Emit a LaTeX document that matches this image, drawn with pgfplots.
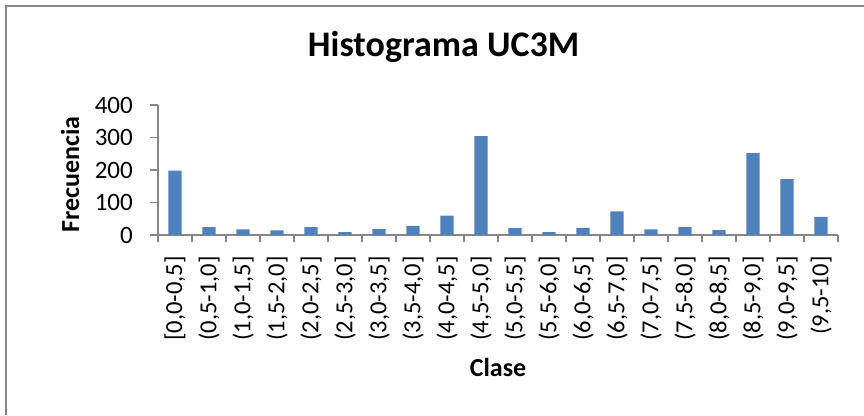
\documentclass[border=0pt]{standalone}
\usepackage{fontspec}
\setmainfont{Carlito}
\usepackage{pgfplots}
\pgfplotsset{compat=1.18}
\definecolor{barblue}{HTML}{4F81BD}
\definecolor{axgray}{HTML}{868686}
\begin{document}
\begin{tikzpicture}[x=1pt,y=1pt]
\useasboundingbox (0,0) rectangle (864,415);
\draw[axgray, line width=2pt] (6,0) -- (6,409) -- (870,409);
\begin{axis}[
  at={(158pt,180pt)}, anchor=south west,
  scale only axis, width=680pt, height=130pt,
  ybar, bar width=13.3pt,
  xmin=-0.5, xmax=19.5, ymin=0, ymax=400,
  axis x line=bottom, axis y line=left,
  axis line style={-, axgray, line width=1.3pt},
  xtick={0,...,19},
  xticklabels={{[0,0-0,5]},{(0,5-1,0]},{(1,0-1,5]},{(1,5-2,0]},{(2,0-2,5]},{(2,5-3,0]},{(3,0-3,5]},{(3,5-4,0]},{(4,0-4,5]},{(4,5-5,0]},{(5,0-5,5]},{(5,5-6,0]},{(6,0-6,5]},{(6,5-7,0]},{(7,0-7,5]},{(7,5-8,0]},{(8,0-8,5]},{(8,5-9,0]},{(9,0-9,5]},{(9,5-10]}},
  major x tick style={draw=none},
  minor xtick={-0.5,0.5,...,19.5},
  minor tick length=7pt, major tick length=8pt,
  tick align=outside,
  every tick/.style={axgray, line width=1.3pt},
  ytick={0,100,200,300,400},
  /pgf/number format/assume math mode=true,
  ticklabel style={font=\fontsize{25}{30}\selectfont, text=black},
  xticklabel style={rotate=90, anchor=east, inner sep=0pt, xshift=-13pt, font=\fontsize{24.5}{30}\selectfont},
  yticklabel style={anchor=east, inner sep=0pt, xshift=-17pt},
  title={Histograma UC3M},
  title style={at={(axis description cs:0.42,1.33)}, anchor=base, font=\bfseries\fontsize{36}{42}\selectfont},
  xlabel={Clase},
  xlabel style={at={(axis description cs:0.5,-1.092)}, anchor=base, font=\bfseries\fontsize{26}{31}\selectfont},
  ylabel={Frecuencia},
  ylabel style={at={(axis description cs:-0.1294,0.465)}, anchor=center, font=\bfseries\fontsize{26}{31}\selectfont},
  clip=false,
]
\addplot[fill=barblue, draw=none] coordinates {
(0,198) (1,24) (2,17) (3,14) (4,24) (5,9) (6,18) (7,28) (8,60) (9,304)
(10,21) (11,9) (12,22) (13,73) (14,17) (15,25) (16,15) (17,252) (18,172) (19,56)
};
\end{axis}
\end{tikzpicture}
\end{document}
